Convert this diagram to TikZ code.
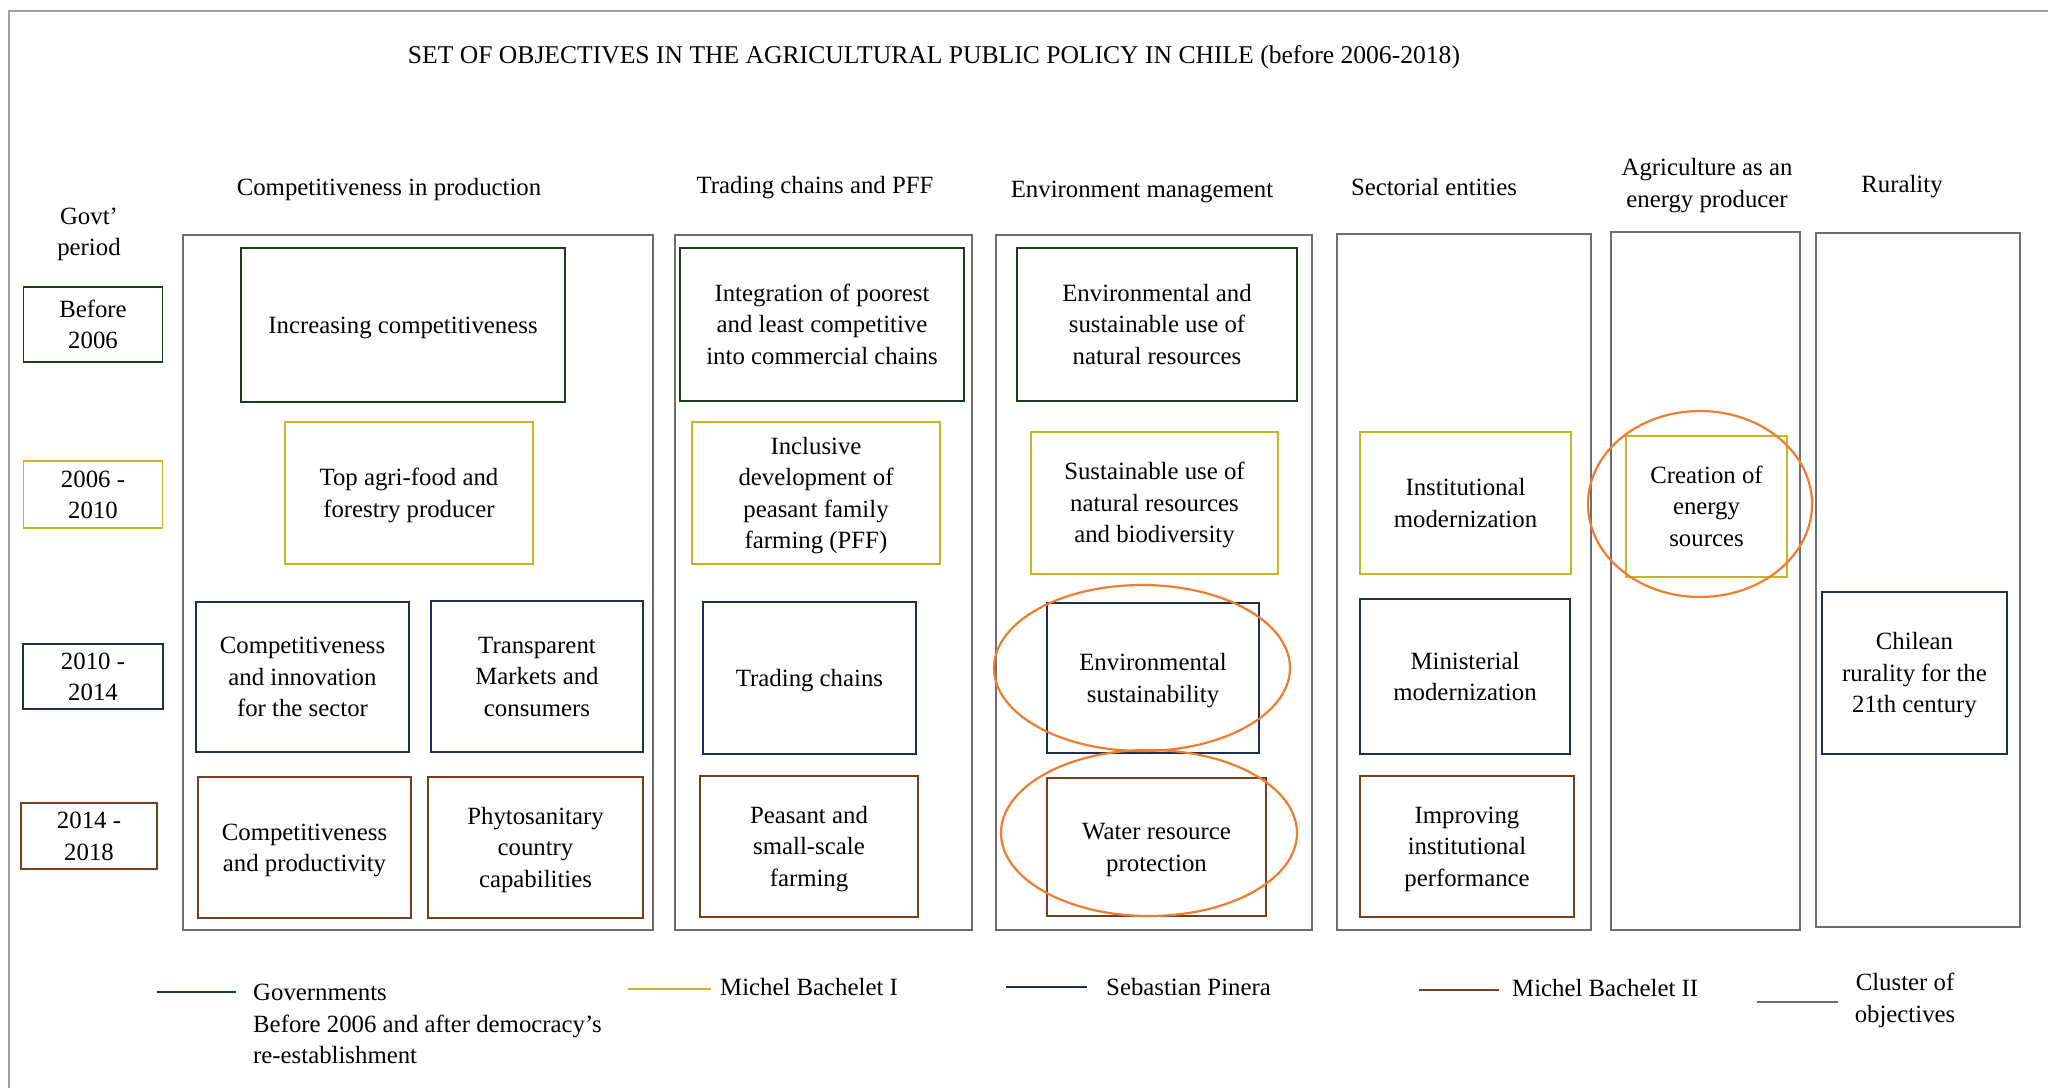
\documentclass[tikz,border=0pt]{standalone}
\usepackage{fontspec}
\setmainfont{Liberation Serif}
\usetikzlibrary{shapes.geometric}
\definecolor{govA}{RGB}{30,58,30}
\definecolor{govB}{RGB}{200,180,40}
\definecolor{govC}{RGB}{30,45,80}
\definecolor{govD}{RGB}{120,62,30}
\definecolor{clus}{RGB}{110,110,110}
\definecolor{frame}{RGB}{160,160,160}
\definecolor{hilite}{RGB}{237,125,49}
% fixed line boxes: every first line gets the same height, every last line the same depth
\newcommand\topstrut{\rule{0pt}{22pt}}
\newcommand\botstrut{\rule[-5.4pt]{0pt}{0pt}}
\begin{document}
\begin{tikzpicture}[x=1pt,y=-1pt,
  every node/.style={font=\fontsize{24.8}{31.5}\selectfont, inner sep=0pt, align=center, text=black},
  objbox/.style={draw, line width=1.6pt},
  pA/.style={objbox, draw=govA},
  pB/.style={objbox, draw=govB},
  pC/.style={objbox, draw=govC},
  pD/.style={objbox, draw=govD},
  cluster/.style={draw=clus, line width=1.4pt},
  wh/.style 2 args={minimum width=#1pt, minimum height=#2pt},
  ring/.style={ellipse, draw=hilite, line width=2.2pt},
  legline/.style={line width=1.8pt}]
\useasboundingbox (0,0) rectangle (2048,1087);
\fill[white] (0,0) rectangle (2048,1087);
% outer frame (runs off the page on the right and bottom)
\draw[frame, line width=1.6pt] (2060,11) -- (9,11) -- (9,1100);

% title and column headings
\node[font=\fontsize{25.6}{31.5}\selectfont] (title) at (934,55) {\topstrut SET OF OBJECTIVES IN THE AGRICULTURAL PUBLIC POLICY IN CHILE (before 2006-2018)\botstrut};
\node (h1) at (389,187) {\topstrut Competitiveness in production\botstrut};
\node (h2) at (815,185) {\topstrut Trading chains and PFF\botstrut};
\node (h3) at (1142,189) {\topstrut Environment management\botstrut};
\node (h4) at (1434,187) {\topstrut Sectorial entities\botstrut};
\node (h5) at (1707,183) {\topstrut Agriculture as an\\energy producer\botstrut};
\node (h6) at (1902,184) {\topstrut Rurality\botstrut};
\node (hp) at (89,231.5) {\topstrut Govt’\\period\botstrut};

% government periods
\node[pA, wh={139}{75}] (p0) at (93,324.5) {\topstrut Before\\2006\botstrut};
\node[pB, wh={139}{67}] (p1) at (93,494.5) {\topstrut 2006 -\\2010\botstrut};
\node[pC, wh={140}{65}] (p2) at (93,676.5) {\topstrut 2010 -\\2014\botstrut};
\node[pD, wh={136}{66}] (p3) at (89,836) {\topstrut 2014 -\\2018\botstrut};

% clusters of objectives
\node[cluster, wh={470}{695}] (c1) at (418,582.5) {};
\node[cluster, wh={297}{695}] (c2) at (823.5,582.5) {};
\node[cluster, wh={316}{695}] (c3) at (1154,582.5) {};
\node[cluster, wh={254}{696}] (c4) at (1464,582) {};
\node[cluster, wh={189}{698}] (c5) at (1705.5,581) {};
\node[cluster, wh={204}{694}] (c6) at (1918,580) {};

% competitiveness in production
\node[pA, wh={324}{154}] (inc) at (403,325) {\topstrut Increasing competitiveness\botstrut};
\node[pB, wh={248}{142}] (top) at (409,493) {\topstrut Top agri-food and\\forestry producer\botstrut};
\node[pC, wh={213}{150}] (ci) at (302.5,677) {\topstrut Competitiveness\\and innovation\\for the sector\botstrut};
\node[pC, wh={212}{151}] (tm) at (537,676.5) {\topstrut Transparent\\Markets and\\consumers\botstrut};
\node[pD, wh={213}{141}] (cp) at (304.5,847.5) {\topstrut Competitiveness\\and productivity\botstrut};
\node[pD, wh={215}{141}] (ph) at (535.5,847.5) {\topstrut Phytosanitary\\country\\capabilities\botstrut};

% trading chains and PFF
\node[pA, wh={284}{153}] (ig) at (822,324.5) {\topstrut Integration of poorest\\and least competitive\\into commercial chains\botstrut};
\node[pB, wh={248}{142}] (icl) at (816,493) {\topstrut Inclusive\\development of\\peasant family\\farming (PFF)\botstrut};
\node[pC, wh={213}{152}] (tc) at (809.5,678) {\topstrut Trading chains\botstrut};
\node[pD, wh={218}{141}] (pe) at (809,846.5) {\topstrut Peasant and\\small-scale\\farming\botstrut};

% environment management
\node[pA, wh={280}{153}] (es) at (1157,324.5) {\topstrut Environmental and\\sustainable use of\\natural resources\botstrut};
\node[pB, wh={247}{142}] (su) at (1154.5,503) {\topstrut Sustainable use of\\natural resources\\and biodiversity\botstrut};
\node[pC, wh={212}{150}] (ens) at (1153,678) {\topstrut Environmental\\sustainability\botstrut};
\node[pD, wh={219}{138}] (wr) at (1156.5,847) {\topstrut Water resource\\protection\botstrut};

% sectorial entities
\node[pB, wh={211}{142}] (im) at (1465.5,503) {\topstrut Institutional\\modernization\botstrut};
\node[pC, wh={210}{155}] (mm) at (1465,676.5) {\topstrut Ministerial\\modernization\botstrut};
\node[pD, wh={214}{141}] (ii) at (1467,846.5) {\topstrut Improving\\institutional\\performance\botstrut};

% agriculture as an energy producer
\node[pB, wh={161}{141}] (ce) at (1706.5,506.5) {\topstrut Creation of\\energy\\sources\botstrut};

% rurality
\node[pC, wh={185}{162}] (cr) at (1914.5,673) {\topstrut Chilean\\rurality for the\\21th century\botstrut};

% highlighted objectives
\node[ring, wh={296}{166}] (r1) at (1142,668) {};
\node[ring, wh={296}{166}] (r2) at (1149,833) {};
\node[ring, wh={224}{186}] (r3) at (1700,504) {};

% legend
\coordinate (la1) at (157,992);  \coordinate (la2) at (236,992);
\coordinate (lb1) at (628,989);  \coordinate (lb2) at (711,989);
\coordinate (lc1) at (1006,987); \coordinate (lc2) at (1087,987);
\coordinate (ld1) at (1419,990); \coordinate (ld2) at (1499,990);
\coordinate (le1) at (1757,1002); \coordinate (le2) at (1838,1002);
\draw[legline, govA] (la1) -- (la2);
\draw[legline, govB] (lb1) -- (lb2);
\draw[legline, govC] (lc1) -- (lc2);
\draw[legline, govD] (ld1) -- (ld2);
\draw[legline, clus] (le1) -- (le2);
\node[anchor=west, align=left] (ta) at (253,1024) {\topstrut Governments\\Before 2006 and after democracy’s\\re-establishment\botstrut};
\node[anchor=west] (tb) at (720,987) {\topstrut Michel Bachelet I\botstrut};
\node[anchor=west] (tc) at (1106,987) {\topstrut Sebastian Pinera\botstrut};
\node[anchor=west] (td) at (1512,988) {\topstrut Michel Bachelet II\botstrut};
\node (te) at (1905,998) {\topstrut Cluster of\\objectives\botstrut};
\end{tikzpicture}
\end{document}
